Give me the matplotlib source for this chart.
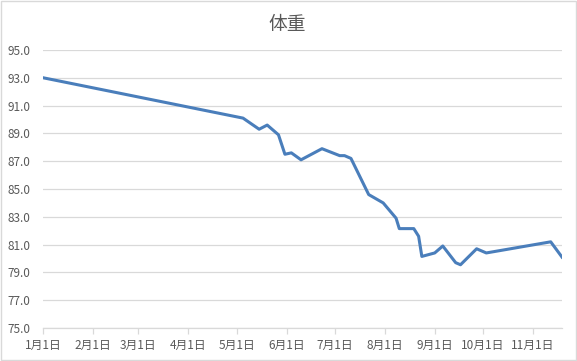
import numpy as np
import pandas as pd
import matplotlib
matplotlib.use("Agg")
import matplotlib.pyplot as plt
import matplotlib.dates as mdates
from matplotlib.patches import Rectangle

plt.rcParams['font.family'] = ['Noto Sans CJK JP', 'DejaVu Sans']

# 体重の記録 (値はグラフから読み取り)
dates = ["2019-01-01", "2019-05-05", "2019-05-15", "2019-05-20", "2019-05-27",
         "2019-05-31", "2019-06-04", "2019-06-10", "2019-06-23", "2019-07-04",
         "2019-07-07", "2019-07-11", "2019-07-22", "2019-07-31", "2019-08-08",
         "2019-08-10", "2019-08-19", "2019-08-22", "2019-08-24", "2019-09-01",
         "2019-09-06", "2019-09-14", "2019-09-17", "2019-09-27", "2019-10-03",
         "2019-11-12", "2019-11-19"]
weights = [93.0, 90.1, 89.3, 89.6, 88.9,
           87.5, 87.6, 87.1, 87.9, 87.4,
           87.4, 87.2, 84.6, 84.0, 82.9,
           82.15, 82.15, 81.6, 80.15, 80.4,
           80.9, 79.7, 79.55, 80.7, 80.4,
           81.2, 80.1]
month_ticks = pd.date_range("2019-01-01", "2019-11-01", freq="MS")
tick_labels = [f"{d.month}月1日" for d in month_ticks]

x = pd.to_datetime(dates)
grey_text = "#595959"
grid_col = "#D9D9D9"

fig = plt.figure(figsize=(5.77, 3.61), dpi=100)
ax = fig.add_axes([0.075, 0.0914, 0.899, 0.7701])

ax.plot(x, weights, color="#4A7EBB", linewidth=2.2, solid_joinstyle="round")

ax.set_xlim(x[0], x[-1])
ax.set_ylim(75, 95)
ax.set_yticks(np.arange(75, 95.1, 2))
ax.yaxis.set_major_formatter(matplotlib.ticker.FormatStrFormatter("%.1f"))
ax.set_xticks(month_ticks)
ax.set_xticklabels(tick_labels)

ax.grid(axis="y", color=grid_col, linewidth=0.9)
ax.set_axisbelow(True)
for s in ["top", "right", "left"]:
    ax.spines[s].set_visible(False)
ax.spines["bottom"].set_color(grid_col)
ax.spines["bottom"].set_linewidth(0.9)

ax.tick_params(axis="y", length=0, pad=9, labelsize=8.5, labelcolor=grey_text)
ax.tick_params(axis="x", length=4, width=0.9, color=grid_col, pad=4,
               labelsize=8.5, labelcolor=grey_text)

fig.text(0.497, 0.931, "体重", ha="center", va="center", fontsize=13.5, color=grey_text)

fig.patches.append(Rectangle((0.001, 0.004), 0.997, 0.994, transform=fig.transFigure,
                             fill=False, edgecolor=grid_col, linewidth=1))

fig.savefig("out.png", dpi=100)
